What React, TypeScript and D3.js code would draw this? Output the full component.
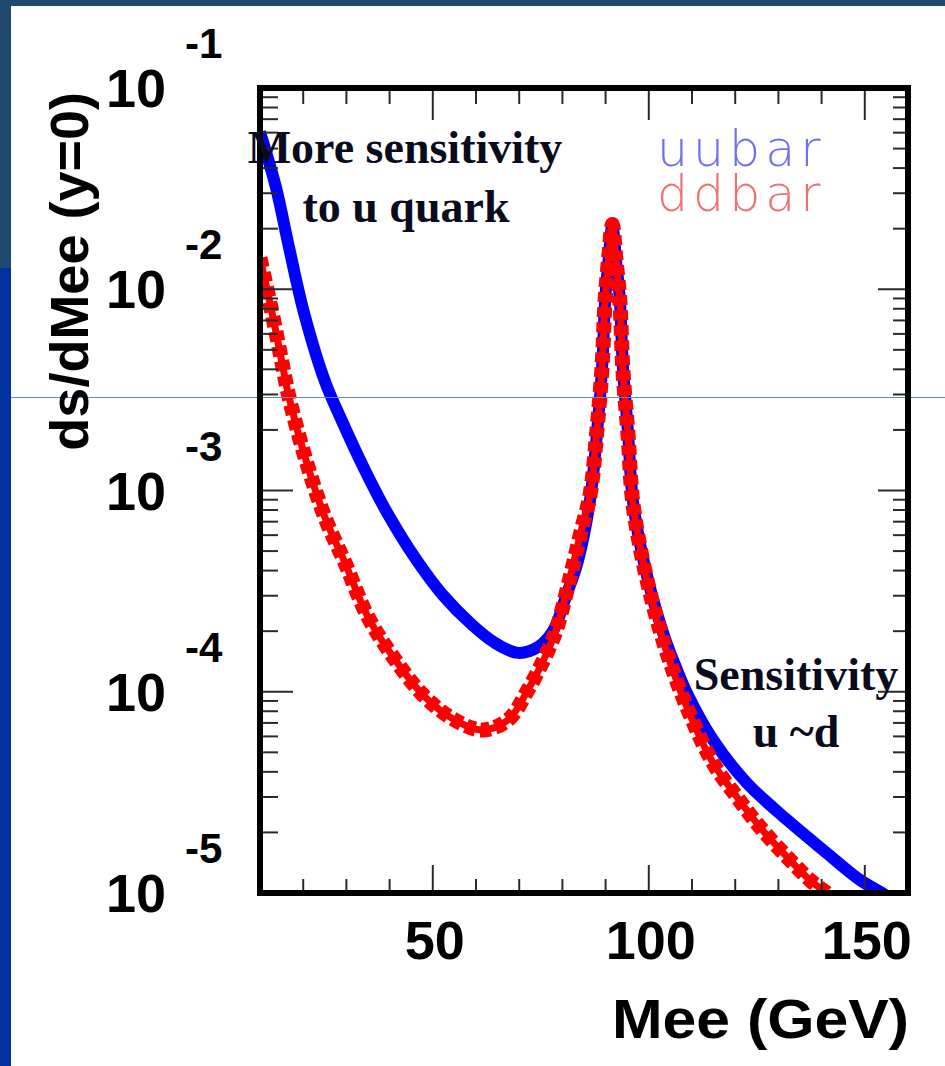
import React from 'react';
import * as d3 from 'd3';

// ---- data ----
const massU = [10, 13.7, 16.7, 20.2, 25.0, 29.0, 34.3, 39.6, 45.9, 52.1, 59.1, 64.4, 69.7, 74.4, 77.8, 81.1, 83.4, 86.4, 88.0, 89.2, 89.9, 90.7, 91.55, 92.4, 93.3, 94.0, 95.2, 96.3, 99.1, 103.3, 105.6, 108.8, 114.9, 122.7, 132.0, 141.2, 148.9, 155.0, 160];
const sigmaU = [6.04e-2, 3.2e-2, 1.62e-2, 7.62e-3, 3.5e-3, 2.21e-3, 1.26e-3, 7.64e-4, 4.62e-4, 3.06e-4, 2.15e-4, 1.75e-4, 1.56e-4, 1.67e-4, 2.0e-4, 3.1e-4, 4.3e-4, 8.97e-4, 1.93e-3, 4.11e-3, 8.85e-3, 1.4e-2, 2.06e-2, 1.4e-2, 8.85e-3, 4.11e-3, 1.93e-3, 8.97e-4, 4.17e-4, 1.96e-4, 1.44e-4, 9.87e-5, 5.75e-5, 3.52e-5, 2.31e-5, 1.58e-5, 1.16e-5, 9.7e-6, 8.0e-6];

const massD = [10, 12.8, 15.1, 16.7, 20.4, 25.0, 29.7, 35.0, 41.3, 48.2, 55.1, 61.4, 67.4, 72.0, 76.7, 78.8, 81.8, 84.5, 86.4, 88.0, 89.2, 89.9, 90.7, 91.55, 92.4, 93.3, 94.0, 95.2, 96.3, 99.1, 103.3, 108.8, 114.9, 120.4, 125.7, 132.0, 137.3, 141.9, 146];
const sigmaD = [1.43e-2, 7.62e-3, 4.31e-3, 2.92e-3, 1.47e-3, 7.38e-4, 4.36e-4, 2.35e-4, 1.44e-4, 9.42e-5, 7.24e-5, 6.46e-5, 7.24e-5, 1.02e-4, 1.61e-4, 2.1e-4, 3.72e-4, 6.5e-4, 9.5e-4, 2.0e-3, 4.2e-3, 8.9e-3, 1.42e-2, 2.1e-2, 1.4e-2, 8.7e-3, 4.0e-3, 1.88e-3, 8.7e-4, 4.0e-4, 1.8e-4, 8.4e-5, 4.42e-5, 3.0e-5, 2.13e-5, 1.51e-5, 1.16e-5, 9.7e-6, 8.0e-6];

const yExponents = [-1, -2, -3, -4, -5];
const xMajorTicks = [50, 100, 150];
const xMinorTicks = [20, 30, 40, 60, 70, 80, 90, 110, 120, 130, 140];
const xTickLabels = ['50', '100', '150'];
const legendLabels = ['uubar', 'ddbar'];
const noteTop = ['More sensitivity', 'to u quark'];
const noteRight = ['Sensitivity', 'u ~d'];
const xTitle = 'Mee (GeV)';
const yTitle = 'ds/dMee (y=0)';

export default function App() {
  const W = 945, H = 1066;
  const L = 260, R = 908, T = 88, B = 893;
  const x = d3.scaleLinear().domain([10, 160]).range([L, R]);
  const y = d3.scaleLog().domain([1e-5, 1e-1]).range([B, T]);
  const line = d3.line<[number, number]>()
    .x(d => x(d[0]))
    .y(d => y(d[1]))
    .curve(d3.curveCatmullRom.alpha(0.5));
  const pathU = line(massU.map((m, i) => [m, sigmaU[i]] as [number, number])) || '';
  const pathD = line(massD.map((m, i) => [m, sigmaD[i]] as [number, number])) || '';

  const yMinor: number[] = [];
  for (let e = -5; e <= -2; e++) for (let k = 2; k <= 9; k++) yMinor.push(k * Math.pow(10, e));

  const tickColor = '#2a2a2a';
  const sans = 'Liberation Sans, Arial, Helvetica, sans-serif';
  const serif = 'Liberation Serif, Times New Roman, serif';

  return (
    <svg width={W} height={H} style={{ position: 'absolute', left: 0, top: 0, display: 'block', background: '#fff' }}>
      <defs>
        <clipPath id="plotclip">
          <rect x={L} y={T} width={R - L} height={B - T} />
        </clipPath>
      </defs>
      <rect x={0} y={0} width={W} height={H} fill="#ffffff" />
      {/* slide background */}
      <rect x={0} y={0} width={W} height={6} fill="#1f4a6e" />
      <rect x={0} y={0} width={11} height={268} fill="#1f4a6e" />
      <rect x={0} y={268} width={11} height={H - 268} fill="#0033a0" />

      {/* curves */}
      <g clipPath="url(#plotclip)">
        <path d={pathU} fill="none" stroke="#0000ff" strokeWidth={12} strokeLinejoin="round" />
        <path d={pathD} fill="none" stroke="#ff0000" strokeWidth={7} strokeLinejoin="round" />
        <path d={pathD} fill="none" stroke="#ff0000" strokeWidth={15} strokeDasharray="10 5" strokeLinejoin="round" />
      </g>

      {/* ticks */}
      <g stroke={tickColor} strokeWidth={2}>
        {yExponents.map(e => {
          const yy = y(Math.pow(10, e));
          return (
            <g key={'ym' + e}>
              <line x1={L} x2={L + 33} y1={yy} y2={yy} />
              <line x1={R} x2={R - 30} y1={yy} y2={yy} />
            </g>
          );
        })}
        {yMinor.map((v, i) => {
          const yy = y(v);
          return (
            <g key={'yn' + i}>
              <line x1={L} x2={L + 18} y1={yy} y2={yy} />
              <line x1={R} x2={R - 15} y1={yy} y2={yy} />
            </g>
          );
        })}
        {xMajorTicks.map(m => (
          <g key={'xm' + m}>
            <line x1={x(m)} x2={x(m)} y1={B} y2={B - 28} />
            <line x1={x(m)} x2={x(m)} y1={T} y2={T + 32} />
          </g>
        ))}
        {xMinorTicks.map(m => (
          <g key={'xn' + m}>
            <line x1={x(m)} x2={x(m)} y1={B} y2={B - 14} />
            <line x1={x(m)} x2={x(m)} y1={T} y2={T + 16} />
          </g>
        ))}
      </g>

      {/* thin slide guide line */}
      <line x1={11} x2={W} y1={397.5} y2={397.5} stroke="#5f86d8" strokeWidth={1} />

      {/* frame */}
      <rect x={L} y={T} width={R - L} height={B - T} fill="none" stroke="#000" strokeWidth={6} />

      {/* y tick labels */}
      {yExponents.map(e => {
        const yy = y(Math.pow(10, e));
        return (
          <g key={'yl' + e} fontFamily={sans} fontWeight="bold" fill="#000">
            <text x={166} y={yy + 19} fontSize={54} textAnchor="end">10</text>
            <text x={185} y={yy - 30} fontSize={42}>{String(e)}</text>
          </g>
        );
      })}

      {/* x tick labels */}
      {xMajorTicks.map((m, i) => (
        <text key={'xl' + m} x={x(m) + 2} y={959} fontFamily={sans} fontWeight="bold" fontSize={54} textAnchor="middle" fill="#000">
          {xTickLabels[i]}
        </text>
      ))}

      {/* axis titles */}
      <text x={612} y={1038} fontFamily={sans} fontWeight="bold" fontSize={55} textLength={297} lengthAdjust="spacingAndGlyphs" fill="#000">{xTitle}</text>
      <text transform="translate(88,92) rotate(-90)" fontFamily={sans} fontWeight="bold" fontSize={54} textAnchor="end" fill="#000">{yTitle}</text>

      {/* legend */}
      <text x={657} y={166} fontFamily="DejaVu Sans, sans-serif" fontWeight={200} fontSize={49} fill="#6f6ff0" letterSpacing={5}>{legendLabels[0]}</text>
      <text x={657} y={211} fontFamily="DejaVu Sans, sans-serif" fontWeight={200} fontSize={49} fill="#f07070" letterSpacing={5}>{legendLabels[1]}</text>

      {/* annotations */}
      <g fontFamily={serif} fontWeight="bold" fontSize={46} fill="#0b0b1e" textAnchor="middle">
        <text x={405} y={163}>{noteTop[0]}</text>
        <text x={406} y={222}>{noteTop[1]}</text>
        <text x={796} y={690}>{noteRight[0]}</text>
        <text x={796} y={747}>{noteRight[1]}</text>
      </g>
    </svg>
  );
}
